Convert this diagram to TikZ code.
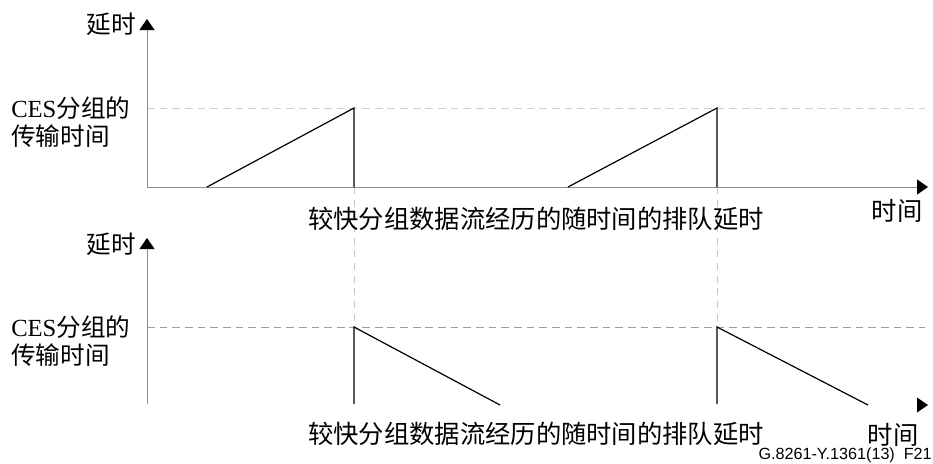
\documentclass[tikz,border=0pt]{standalone}
\usepackage{fontspec}
\setmainfont{Liberation Serif}
\newfontfamily\cjk{Noto Sans CJK SC}
\newfontfamily\figsans{Liberation Sans}
\usetikzlibrary{arrows.meta}
\newcommand*{\TeethUp}[1]{% #1 = list of start/peak
\foreach \s/\p in {#1} {
\draw [wave] (\s,187) -- (\p,108) -- (\p,187);
}%
}
\newcommand*{\TeethDown}[1]{% #1 = list of peak/end
\foreach \p/\e in {#1} {
\draw [wave] (\p,404) -- (\p,327) -- (\e,405);
}%
}

\begin{document}
\begin{tikzpicture}[x=0.025cm,y=-0.025cm,
    axis/.style={draw=black!45, line width=0.6pt},
    axistip/.style={-{Triangle[width=3.75mm,length=2.75mm,color=black]}},
    levelA/.style={draw=black!18, line width=0.6pt, dash pattern=on 5.5pt off 3.5pt},
    levelB/.style={draw=black!38, line width=0.6pt, dash pattern=on 5.5pt off 3.5pt},
    guide/.style={draw=black!22, line width=0.6pt, dash pattern=on 5pt off 4pt},
    wave/.style={draw=black, line width=0.85pt, line join=miter},
    lbl/.style={draw=none, inner sep=0pt, font=\fontsize{17.5}{19.5}\selectfont},
    txt/.style={draw=none, inner sep=0pt, font=\cjk\fontsize{18}{21}\selectfont}]

    \useasboundingbox (0,0) rectangle (933,463);

    % axes
    \coordinate (o1) at (147,187);
    \coordinate (y1) at (147,19);
    \coordinate (x1) at (928,187);
    \coordinate (o2) at (147,404);
    \coordinate (y2) at (147,238);
    \coordinate (x2) at (928,405);

    \draw [guide] (354,187) -- (354,327);
    \draw [guide] (717,187) -- (717,327);
    \draw [levelA] (147,108) -- (925,108);
    \draw [levelB] (147,327) -- (925,327);

    \draw [axis,axistip] (o1) -- (y1);
    \draw [axis,axistip] (o1) -- (x1);
    \draw [axis,axistip] (o2) -- (y2);
    \fill (x2) -- ++(-11,-7.5) -- ++(0,15) -- cycle;

    \TeethUp{207/354, 568/717}
    \TeethDown{354/500, 717/868}

    % texts
    \node [lbl, anchor=east] (d1) at (136,24) {\cjk 延时};
    \node [lbl, anchor=east] (d2) at (136,244) {\cjk 延时};
    \node [lbl, anchor=west, align=left] (c1) at (11,122) {CES{\cjk 分组的}\\{\cjk 传输时间}};
    \node [lbl, anchor=west, align=left] (c2) at (11,341) {CES{\cjk 分组的}\\{\cjk 传输时间}};
    \node [txt] (q1) at (536,219) {较快分组数据流经历的随时间的排队延时};
    \node [txt] (q2) at (536,434) {较快分组数据流经历的随时间的排队延时};
    \node [txt] (t1) at (897,211) {时间};
    \node [txt] (t2) at (893,435) {时间};
    \node [draw=none, inner sep=0pt, anchor=east, font=\figsans\fontsize{11.5}{13}\selectfont] (f) at (932,455) {G.8261-Y.1361(13)\ \ F21};
\end{tikzpicture}
\end{document}
